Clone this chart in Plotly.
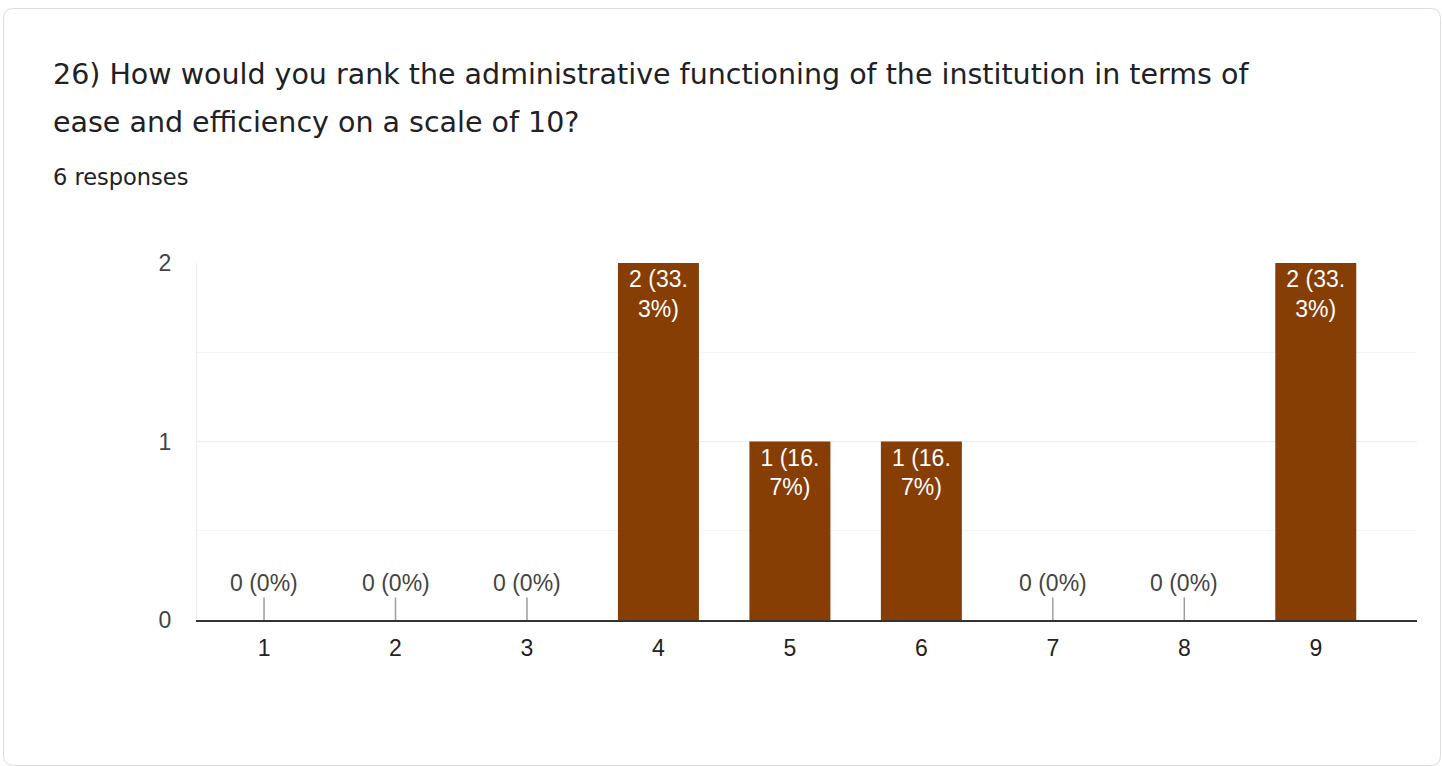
import plotly.graph_objects as go

# ---- data ----
categories = [1, 2, 3, 4, 5, 6, 7, 8, 9, 10]
counts = [0, 0, 0, 2, 1, 1, 0, 0, 2, 0]
total_responses = 6
title_line1 = "26) How would you rank the administrative functioning of the institution in terms of"
title_line2 = "ease and efficiency on a scale of 10?"
subtitle = "6 responses"
y_ticks = [0, 1, 2]

# ---- layout constants (pixels) ----
W, H = 1442, 766
PL, PR, PT, PB = 197, 1417, 263, 620  # plot area edges


def px_x(p):
    return (p - PL) / (PR - PL)


def px_y(p):
    return (PB - p) / (PB - PT)


def label(v):
    pct = round(v / total_responses * 100, 1)
    s = f"{v} ({pct:g}%)"
    if "." in s:
        i = s.index(".") + 1
        s = s[:i] + "<br>" + s[i:]
    return s


LABEL_FONT = "Liberation Sans, Arial, sans-serif"
bar_text = [label(v) if v > 0 else "" for v in counts]

fig = go.Figure()
fig.add_trace(go.Bar(
    x=categories,
    y=counts,
    width=0.616,
    marker=dict(color="#873e05", line=dict(width=0)),
    text=bar_text,
    textposition="inside",
    insidetextanchor="end",
    textfont=dict(family=LABEL_FONT, size=23, color="white"),
    cliponaxis=True,
    hoverinfo="skip",
))

annotations = []
for c, v in zip(categories, counts):
    if v == 0:
        annotations.append(dict(
            x=c, y=0, xref="x", yref="y",
            text=label(v),
            showarrow=True, arrowhead=0, arrowwidth=1.5, arrowcolor="#9e9e9e",
            ax=0, ay=-37, standoff=0,
            font=dict(family=LABEL_FONT, size=23, color="#444444"),
        ))

# title and subtitle
annotations.append(dict(
    xref="paper", yref="paper", x=px_x(51), y=px_y(74), xanchor="left", yanchor="middle",
    text=title_line1, showarrow=False,
    font=dict(family="DejaVu Sans, sans-serif", size=28.5, color="#202124"),
))
annotations.append(dict(
    xref="paper", yref="paper", x=px_x(51), y=px_y(122), xanchor="left", yanchor="middle",
    text=title_line2, showarrow=False,
    font=dict(family="DejaVu Sans, sans-serif", size=28.5, color="#202124"),
))
annotations.append(dict(
    xref="paper", yref="paper", x=px_x(51), y=px_y(177), xanchor="left", yanchor="middle",
    text=subtitle, showarrow=False,
    font=dict(family="DejaVu Sans, sans-serif", size=22.5, color="#202124"),
))

# card outline with rounded corners (pixel -> paper)
x0, y0, x1, y1, r = 3.5, 8.5, 1440.5, 765.5, 10
path = (
    f"M {px_x(x0 + r)} {px_y(y0)} L {px_x(x1 - r)} {px_y(y0)} "
    f"Q {px_x(x1)} {px_y(y0)} {px_x(x1)} {px_y(y0 + r)} "
    f"L {px_x(x1)} {px_y(y1 - r)} Q {px_x(x1)} {px_y(y1)} {px_x(x1 - r)} {px_y(y1)} "
    f"L {px_x(x0 + r)} {px_y(y1)} Q {px_x(x0)} {px_y(y1)} {px_x(x0)} {px_y(y1 - r)} "
    f"L {px_x(x0)} {px_y(y0 + r)} Q {px_x(x0)} {px_y(y0)} {px_x(x0 + r)} {px_y(y0)} Z"
)

fig.update_layout(
    width=W, height=H,
    margin=dict(l=PL, r=W - PR, t=PT, b=H - PB, pad=0),
    paper_bgcolor="white",
    plot_bgcolor="rgba(0,0,0,0)",
    showlegend=False,
    annotations=annotations,
    shapes=[dict(type="path", path=path, xref="paper", yref="paper",
                 line=dict(color="#dadce0", width=1), fillcolor="white", layer="below")],
    xaxis=dict(
        range=[0.49, 9.77],
        tickmode="array", tickvals=categories, ticktext=[str(c) for c in categories],
        showgrid=False, zeroline=False,
        showline=True, linecolor="#333333", linewidth=2,
        ticks="", ticklabelstandoff=6,
        tickfont=dict(family=LABEL_FONT, size=23, color="#222222"),
        fixedrange=True,
    ),
    yaxis=dict(
        range=[0, 2],
        tickmode="array", tickvals=y_ticks, ticktext=[str(t) for t in y_ticks],
        showgrid=True, gridcolor="#ebebeb", gridwidth=1,
        minor=dict(dtick=0.5, showgrid=True, gridcolor="#f3f3f3", gridwidth=1),
        zeroline=False,
        showline=True, linecolor="#ebebeb", linewidth=1,
        ticks="", ticklabelstandoff=20,
        tickfont=dict(family=LABEL_FONT, size=23, color="#444444"),
        fixedrange=True,
    ),
)

fig.write_html(
    "out.html",
    config={"displayModeBar": False},
    post_script="document.body.style.margin='0';document.body.style.overflow='hidden';",
)
